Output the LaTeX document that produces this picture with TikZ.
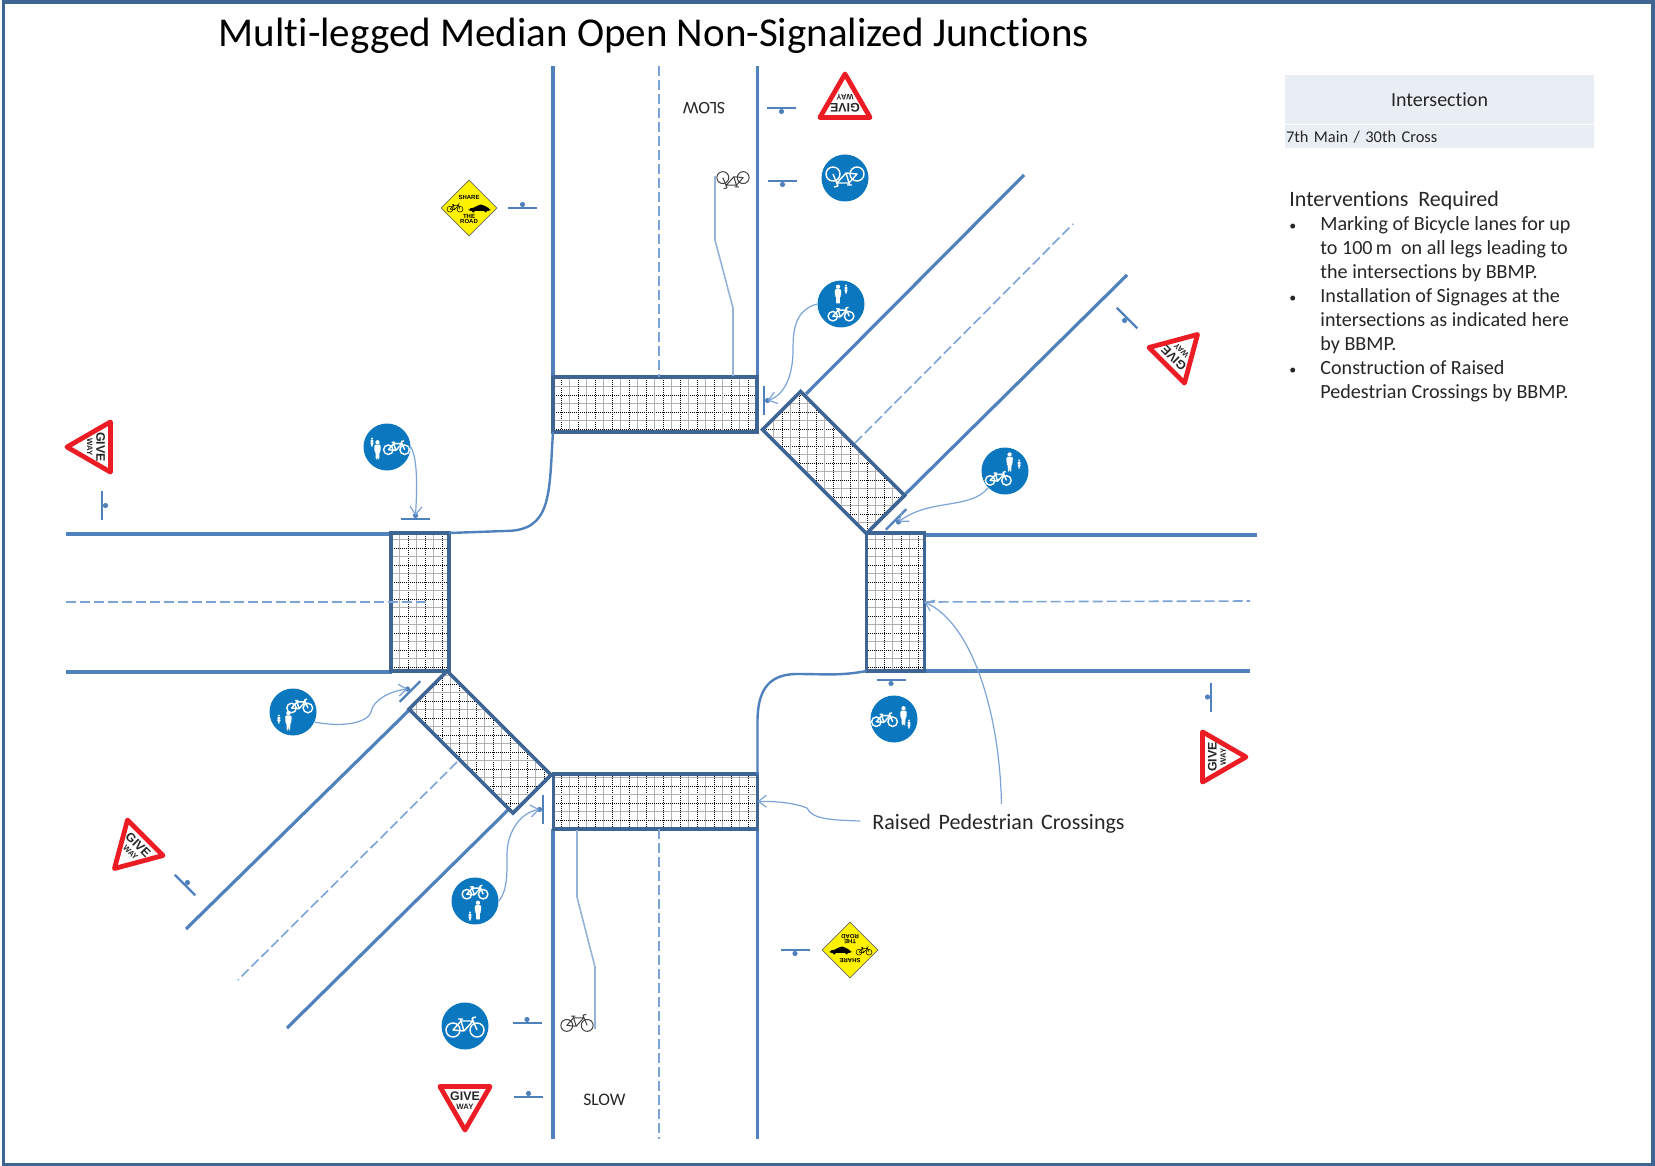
\documentclass[tikz,border=0pt]{standalone}
\usepackage{fontspec}
\setmainfont[Ligatures=NoCommon]{Carlito}
\setsansfont{Liberation Sans}
\usetikzlibrary{arrows.meta,positioning,shapes.geometric}

\definecolor{roadblue}{HTML}{4F81BD}
\definecolor{crossblue}{HTML}{3F6594}
\definecolor{thinblue}{HTML}{7BA3D6}
\definecolor{laneblue}{HTML}{95B3D7}
\definecolor{discblue}{HTML}{0B77BF}
\definecolor{signred}{HTML}{EC1C24}
\definecolor{signyellow}{HTML}{FFF200}
\definecolor{headfill}{HTML}{E9EDF4}

\tikzset{
	road/.style={draw=roadblue,line width=1.6pt},
	kerb/.style={draw=roadblue,line width=1.2pt},
	median/.style={draw=thinblue,line width=.8pt,dash pattern=on 5pt off 2pt},
	lane/.style={draw=laneblue,line width=.8pt},
	callout/.style={draw=thinblue,line width=.6pt,-{Straight Barb[length=4pt,width=6pt]}},
	crossing/.style={draw=crossblue,fill=white,line width=1.8pt,inner sep=0,outer sep=0,
		path picture={
			\begin{scope}
			\pgftransformreset
			\foreach \i in {20,...,60} {
				\draw[black!30,line width=.55pt] (\i*17+8.5,350) -- (\i*17+8.5,850);
				\draw[black!30,line width=.55pt] (370,\i*17+8.5-200) -- (950,\i*17+8.5-200);
				\draw[black,line width=.5pt,dash pattern=on .5pt off .5pt] (\i*17,350) -- (\i*17,850);
				\draw[black,line width=.5pt,dash pattern=on .5pt off .5pt] (370,\i*17-200) -- (950,\i*17-200);
			}
			\end{scope}
		}},
	giveway/.style={regular polygon,regular polygon sides=3,shape border rotate=180,draw=signred,
		fill=white,line width=2.4pt,line join=round,inner sep=0,outer sep=0,minimum size=29pt},
	givetext/.style={font=\sffamily\bfseries\fontsize{6.2}{4.6}\selectfont,align=center,inner sep=0,text=black!85},
	disc/.style={circle,fill=discblue,inner sep=0,minimum size=23.5pt},
	yellowsign/.style={diamond,aspect=1,draw=black!60,fill=signyellow,line width=.4pt,line join=round,
		inner sep=0,minimum width=28pt,minimum height=28pt},
	tinytext/.style={font=\sffamily\bfseries\fontsize{3}{3.6}\selectfont,inner sep=0,transform shape},
	bikeline/.style={line width=.7pt},
	rowfill/.style={fill=headfill,inner sep=0,outer sep=0,text=black!85},
	label text/.style={inner sep=0,text=black!85},
	bikeshape/.pic={
		\draw[bikeline] (-12,4) circle (7) (12,4) circle (7);
		\draw[bikeline,line join=round] (-12,4) -- (-1,5) -- (-4,-5) -- cycle (-4,-5) -- (8,-5) -- (-1,5)
			(7,-8) -- (12,4) (-7,-7) -- (-2,-7) (-4,-5) -- (-4.5,-7) (7,-8) -- (11,-9);
	},
	personshape/.pic={
		\fill (0,-8.6) circle (2.4);
		\fill[rounded corners=.6] (-3.6,-6) -- (3.6,-6) -- (3.3,2) -- (2.2,2) -- (1.9,10.5) -- (.3,10.5)
			-- (0,3) -- (-.3,10.5) -- (-1.9,10.5) -- (-2.2,2) -- (-3.3,2) -- cycle;
	},
	carshape/.pic={
		\fill[rounded corners=1] (-11,3) -- (-11,.5) -- (-4,-.5) -- (-1,-3.5) -- (5,-3.5) -- (8,-.5) -- (12,.5) -- (12,3) -- cycle;
		\fill (-6,3) circle (1.8) (7,3) circle (1.8);
	},
	sharedglyph/.pic={
		\pic[scale=.68] at (0,-9.5) {bikeshape};
		\pic[scale=.9] at (3,9.5) {personshape};
		\pic[scale=.42] at (-5,15) {personshape};
	},
	sharesign/.pic={
		\node[yellowsign] (-body) at (0,0) {};
		\node[tinytext] (-top) at (0,-10.5) {SHARE};
		\node[tinytext] (-the) at (0,8) {THE};
		\node[tinytext] (-low) at (0,13.5) {ROAD};
		\begin{scope}[bikeline/.style={line width=.25pt}]
			\pic[scale=.42] at (-14,-.5) {bikeshape};
		\end{scope}
		\pic[scale=.95] at (10,0) {carshape};
	},
	postmark/.pic={
		\draw[road,line width=1.2pt] (-14.5,0) -- (14.5,0);
		\fill[roadblue] (0,-3.5) circle (2.6);
		\coordinate (-dot) at (0,-3.5);
	},
}

\begin{document}
\begin{tikzpicture}[x=.5pt,y=-.5pt]
	\useasboundingbox (0,0) rectangle (1655,1166);
	\draw[crossblue,line width=1.8pt] (3.5,2) rectangle (1653,1164.5);

	\node[inner sep=0,font=\fontsize{20.5}{24}\selectfont] (title) at (654,36) {Multi-legged Median Open Non-Signalized Junctions};

	% legs
	\coordinate (topL) at (553,66);
	\coordinate (topR) at (757.5,66);
	\coordinate (botL) at (553,1139);
	\coordinate (botR) at (757.5,1139);
	\coordinate (leftT) at (66,534);
	\coordinate (leftB) at (66,672);
	\coordinate (rightT) at (1257,535);
	\coordinate (rightB) at (1250,671);
	\coordinate (neUpA) at (806,394);
	\coordinate (neUp) at (1024,175);
	\coordinate (neLow) at (1127,275);
	\coordinate (swUp) at (186,929);
	\coordinate (swLow) at (287,1028);
	\coordinate (swLowA) at (510,808);

	\draw[road] (topL) -- (553,378);
	\draw[road] (topR) -- (757.5,378);
	\draw[road] (botL) -- (553,829);
	\draw[road] (botR) -- (757.5,829);
	\draw[road] (leftT) -- (392,534);
	\draw[road] (leftB) -- (392,672);
	\draw[road] (rightT) -- (925,535);
	\draw[road] (rightB) -- (925,671);
	\draw[road] (neUpA) -- (neUp);
	\draw[road] (866,533) -- (neLow);
	\draw[road] (448,672) -- (swUp);
	\draw[road] (swLowA) -- (swLow);

	% crossings
	\node[crossing,minimum width=102pt,minimum height=27.5pt] (crossN) at (655,404.5) {};
	\node[crossing,minimum width=102pt,minimum height=27.5pt] (crossS) at (655.5,801.5) {};
	\node[crossing,minimum width=29pt,minimum height=69pt] (crossW) at (420,602) {};
	\node[crossing,minimum width=29pt,minimum height=69pt] (crossE) at (895.5,602) {};
	\node[crossing,minimum width=73.5pt,minimum height=27pt,rotate=-45] (crossNE) at (833.5,462.5) {};
	\node[crossing,minimum width=73.5pt,minimum height=27pt,rotate=-45] (crossSW) at (480,742) {};

	\draw[median] (659,66) -- (crossN.north -| 659,0);
	\draw[median] (crossS.south -| 659,0) -- (659,1139);
	\draw[median] (66,602) -- (427,602);
	\draw[median] (crossE.east) -- (1250,601);
	\draw[median] (855,443) -- (1073,224);
	\draw[median] (457,762) -- (238,980);

	% corner kerbs
	\draw[kerb] (crossN.south west) .. controls (549,495) and (552,531) .. (505,531) -- (crossW.north east);
	\draw[kerb] (crossE.south west) .. controls (840,676) and (825,674) .. (797,674) .. controls (765,674) and (758,695) .. (757.5,720) -- (crossS.north east);

	% bike lanes
	\draw[lane] (733,376) -- (733,308) -- (715,240) -- (715,176);
	\draw[lane] (577,830) -- (577,897) -- (595,967) -- (595,1029);
	\begin{scope}[bikeline/.style={line width=.5pt}]
		\pic[black!75,rotate=180,scale=.85] (bikeN) at (733,181) {bikeshape};
		\pic[black!75,scale=.85] (bikeS) at (577,1022) {bikeshape};
	\end{scope}

	\node[label text,font=\fontsize{8.8}{11}\selectfont] (slowS) at (604.5,1100) {SLOW};
	\node[label text,font=\fontsize{8.8}{11}\selectfont,rotate=180] (slowN) at (704,108) {SLOW};

	% give way signs
	\foreach \nm/\px/\py/\ang in {gwN/845/103/180,gwS/465/1101/0,gwW/96/447/-90,gwE/1217/757/90,gwNE/1177/355/135,gwSW/135/848/-45} {
		\node[giveway,rotate=\ang] (\nm) at (\px,\py) {};
		\node[givetext,rotate=\ang] (\nm txt) at (\px,\py) {GIVE\\{\fontsize{3.9}{4.6}\selectfont WAY}};
	}

	% posts
	\foreach \nm/\px/\py/\ang in {postA/781.5/108/180,postB/782.5/181/180,postC/764/400.5/-90,postD/1127/318/135,
		postE/896/519.5/-135,postF/891/680/180,postG/1211/697/90,postH/795/950/180,postI/527/1023/0,
		postJ/528.5/1097/0,postK/543/809.5/90,postL/410/691.5/45,postM/185/885/-45,postN/102/505.5/-90,
		postO/415.5/519/0,postP/522.5/208/0} {
		\pic[rotate=\ang] (\nm) at (\px,\py) {postmark};
	}

	% blue discs
	\node[disc] (cycN) at (845,178) {};
	\node[disc] (cycS) at (465,1026) {};
	\pic[white,rotate=180] (cycNg) at (845,178) {bikeshape};
	\pic[white] (cycSg) at (465,1026) {bikeshape};
	\node[disc] (sharedN) at (841,304) {};
	\node[disc] (sharedNE) at (1005,471) {};
	\node[disc] (sharedE) at (894,719) {};
	\node[disc] (sharedS) at (475,901) {};
	\node[disc] (sharedSW) at (293,712) {};
	\node[disc] (sharedW) at (387,447) {};
	\pic[white,rotate=180] (sharedNg) at (841,304) {sharedglyph};
	\pic[white,rotate=135] (sharedNEg) at (1005,471) {sharedglyph};
	\pic[white,rotate=90] (sharedEg) at (894,719) {sharedglyph};
	\pic[white] (sharedSg) at (475,901) {sharedglyph};
	\pic[white,rotate=-45] (sharedSWg) at (293,712) {sharedglyph};
	\pic[white,rotate=-90] (sharedWg) at (387,447) {sharedglyph};

	% yellow signs
	\pic (roadNW) at (469,208) {sharesign};
	\pic[rotate=180] (roadSE) at (850,950) {sharesign};

	% callouts
	\draw[callout] (sharedN.180) .. controls (795,310) and (793,330) .. (793,350) .. controls (793,375) and (785,395) .. (postC-dot);
	\draw[callout] (sharedNE.-135) .. controls (970,510) and (930,498) .. (postE-dot);
	\draw[callout] (sharedW.0) .. controls (418,460) and (417,490) .. (postO-dot);
	\draw[callout] (sharedSW.-25) .. controls (345,728) and (368,722) .. (371,712) .. controls (373,700) and (390,691) .. (postL-dot);
	\draw[callout] (sharedS.0) .. controls (508,890) and (507,870) .. (507,855) .. controls (507,830) and (522,812) .. (postK-dot);

	\node[label text,anchor=west,font=\fontsize{11}{13}\selectfont] (raised) at (872,824) {Raised\hspace{1.3pt} Pedestrian\hspace{1.3pt} Crossings};
	\draw[callout] (raised.west) ++(-12,-3) .. controls (835,820) and (812,820) .. (807,808) .. controls (795,803) and (775,801) .. (crossS.east);
	\draw[callout] (raised.north) ++(3,-10) .. controls (1000,720) and (975,625) .. (crossE.east);

	% side panel
	\node[rowfill,anchor=north west,minimum width=154.5pt,minimum height=24.5pt,font=\fontsize{10}{12}\selectfont] (intHead) at (1285,75) {Intersection};
	\node[rowfill,below=.5pt of intHead,minimum width=154.5pt,minimum height=11.5pt,font=\fontsize{8.2}{10}\selectfont,
		text width=153.5pt,text height=7.6pt,text depth=1.2pt,align=left] (intRow) {7th Main / 30th Cross};

	\node[label text,anchor=north west,align=left,font=\fontsize{10.05}{12}\selectfont] (interv) at (1289,191) {%
		{\fontsize{11}{12}\selectfont Interventions \ Required}\\
		\makebox[15.5pt][l]{\fontsize{7}{7}\selectfont\textbullet}Marking of Bicycle lanes for up\\
		\hspace*{15.5pt}to 100\,m \ on all legs leading to\\
		\hspace*{15.5pt}the intersections by BBMP.\\
		\makebox[15.5pt][l]{\fontsize{7}{7}\selectfont\textbullet}Installation of Signages at the\\
		\hspace*{15.5pt}intersections as indicated here\\
		\hspace*{15.5pt}by BBMP.\\
		\makebox[15.5pt][l]{\fontsize{7}{7}\selectfont\textbullet}Construction of Raised\\
		\hspace*{15.5pt}Pedestrian Crossings by BBMP.};
\end{tikzpicture}
\end{document}
